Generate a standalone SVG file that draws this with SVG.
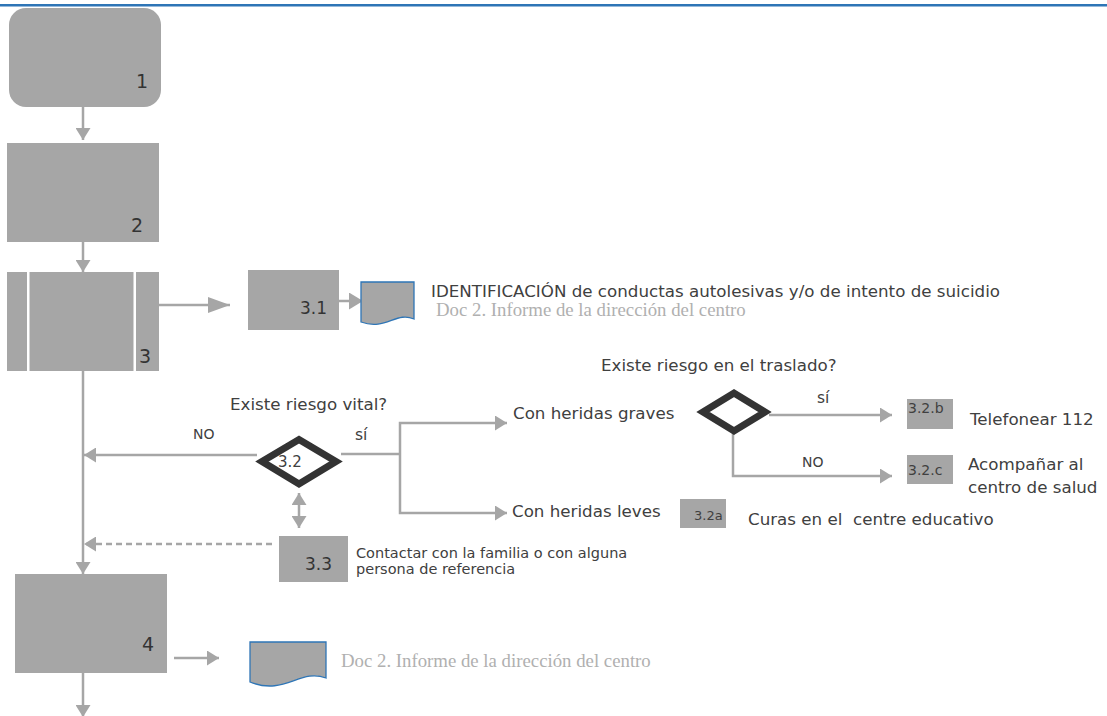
<svg xmlns="http://www.w3.org/2000/svg" width="1107" height="716" viewBox="0 0 1107 716">
<style>
.box{fill:#a6a6a6;}
.num{font-family:"DejaVu Sans",sans-serif;font-size:19px;fill:#333;text-anchor:end;}
.lbl{font-family:"DejaVu Sans",sans-serif;font-size:16.7px;fill:#404040;}
.sm{font-family:"DejaVu Sans",sans-serif;font-size:14px;fill:#404040;}
.doc{fill:#a6a6a6;stroke:#2e75b6;stroke-width:1.3;}
.doct{font-family:"Liberation Serif",serif;font-size:18.8px;fill:#b0b0b0;}
.ln{fill:none;stroke:#a6a6a6;stroke-width:2.5;}
.dia{fill:#fff;stroke:#333;stroke-width:7;stroke-linejoin:miter;}
</style>
<defs>
<marker id="a" markerUnits="userSpaceOnUse" markerWidth="12" markerHeight="15" refX="12" refY="7.5" orient="auto-start-reverse"><path d="M0,0 L12,7.5 L0,15 z" fill="#a6a6a6"/></marker>
<marker id="ab" markerUnits="userSpaceOnUse" markerWidth="22" markerHeight="16" refX="22" refY="8" orient="auto"><path d="M0,0 L22,8 L0,16 z" fill="#a6a6a6"/></marker>
<marker id="am" markerUnits="userSpaceOnUse" markerWidth="14" markerHeight="17" refX="14" refY="8.5" orient="auto"><path d="M0,0 L14,8.5 L0,17 z" fill="#a6a6a6"/></marker>
</defs>
<rect x="0" y="4" width="1107" height="2.5" fill="#2e75b6"/>

<g id="connectors">
<line class="ln" x1="83" y1="107" x2="83" y2="140" marker-end="url(#a)"/>
<line class="ln" x1="83" y1="242" x2="83" y2="272" marker-end="url(#a)"/>
<line class="ln" x1="159" y1="305" x2="230" y2="305" marker-end="url(#ab)"/>
<line class="ln" x1="339" y1="301" x2="363" y2="301" marker-end="url(#am)"/>
<line class="ln" x1="83" y1="371" x2="83" y2="574" marker-end="url(#a)"/>
<line class="ln" x1="257" y1="455" x2="84" y2="455" marker-end="url(#a)"/>
<line class="ln" x1="341" y1="454" x2="400" y2="454"/>
<polyline class="ln" points="507,423 400,423 400,513 507,513" marker-start="url(#a)" marker-end="url(#a)"/>
<line class="ln" x1="299" y1="493" x2="299" y2="528" marker-start="url(#a)" marker-end="url(#a)"/>
<line class="ln" x1="272" y1="544" x2="84" y2="544" stroke-dasharray="6,4" marker-end="url(#a)"/>
<line class="ln" x1="769" y1="415" x2="892" y2="415" marker-end="url(#a)"/>
<polyline class="ln" points="733,433 733,476 892,476" marker-end="url(#a)"/>
<line class="ln" x1="83" y1="673" x2="83" y2="717" marker-end="url(#a)"/>
<line class="ln" x1="174" y1="658" x2="219" y2="658" marker-end="url(#a)"/>
</g>

<g id="n1"><rect class="box" x="9" y="8" width="152" height="99" rx="17"/><text class="num" x="148" y="88">1</text></g>
<g id="n2"><rect class="box" x="7" y="143" width="152" height="99"/><text class="num" x="143" y="232">2</text></g>
<g id="n3"><rect class="box" x="7" y="272" width="152" height="99"/><rect x="27" y="272" width="2.5" height="99" fill="#fff"/><rect x="133.5" y="272" width="2.5" height="99" fill="#fff"/><text class="num" x="151" y="363">3</text></g>
<g id="n3_1"><rect class="box" x="248" y="270" width="91" height="60"/><text class="num" x="327" y="314" style="font-size:17px">3.1</text></g>
<g id="doc1"><path class="doc" d="M361,282 H414 V319 C396,311 386,331 361,322 Z"/>
<text class="lbl" x="431" y="297" style="font-size:16.7px">IDENTIFICACIÓN de conductas autolesivas y/o de intento de suicidio</text>
<text class="doct" x="436" y="316">Doc 2. Informe de la dirección del centro</text></g>

<g id="n3_2"><path class="dia" d="M262,461.5 L299,439.5 L336,461.5 L299,484 Z"/><text class="sm" x="278" y="467" style="font-size:15px">3.2</text>
<text class="lbl" x="230" y="410">Existe riesgo vital?</text>
<text class="sm" x="193" y="439">NO</text>
<text class="lbl" x="355" y="440" style="font-size:15.5px">sí</text></g>

<g id="graves"><text class="lbl" x="513" y="419">Con heridas graves</text></g>
<g id="leves"><text class="lbl" x="512" y="517">Con heridas leves</text></g>

<g id="dec2"><path class="dia" d="M703,412 L734,393 L765,412 L734,431 Z"/>
<text class="lbl" x="601" y="371">Existe riesgo en el traslado?</text>
<text class="lbl" x="817" y="403" style="font-size:15.5px">sí</text>
<text class="sm" x="802" y="467">NO</text></g>

<g id="n3_2b"><rect class="box" x="907" y="399" width="46" height="30"/><text class="sm" x="908" y="413">3.2.b</text><text class="lbl" x="970" y="425">Telefonear 112</text></g>
<g id="n3_2c"><rect class="box" x="907" y="455" width="46" height="29"/><text class="sm" x="908" y="475">3.2.c</text><text class="lbl" x="968" y="470">Acompañar al</text><text class="lbl" x="968" y="493">centro de salud</text></g>
<g id="n3_2a"><rect class="box" x="680" y="499" width="46" height="29"/><text class="sm" x="694" y="520" style="font-size:13px">3.2a</text><text class="lbl" x="748" y="525" xml:space="preserve">Curas en el  centre educativo</text></g>

<g id="n3_3"><rect class="box" x="279" y="536" width="69" height="46"/><text class="num" x="332" y="570" style="font-size:17px">3.3</text>
<text class="sm" x="356" y="558" style="font-size:14.5px">Contactar con la familia o con alguna</text>
<text class="sm" x="356" y="574" style="font-size:14.5px">persona de referencia</text></g>

<g id="n4"><rect class="box" x="15" y="574" width="152" height="99"/><text class="num" x="154" y="651">4</text></g>
<g id="doc2"><path class="doc" d="M250,642 H326 V678 C300,668 285,696 250,682 Z"/><text class="doct" x="341" y="667">Doc 2. Informe de la dirección del centro</text></g>
</svg>
